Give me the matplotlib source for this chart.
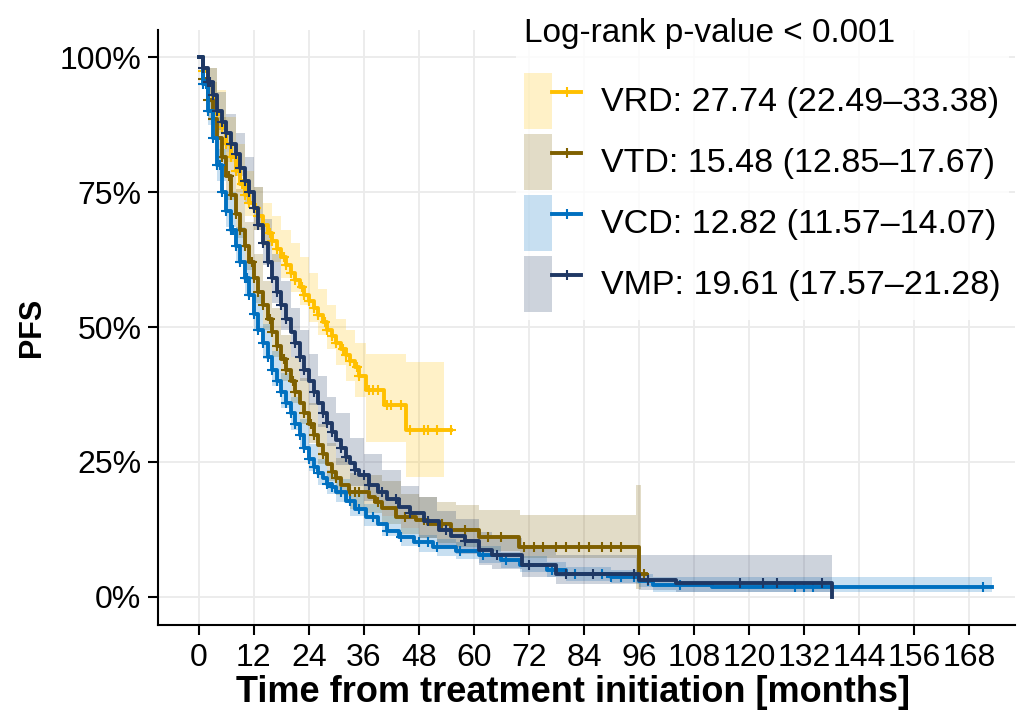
import numpy as np
import matplotlib
matplotlib.use('Agg')
import matplotlib.pyplot as plt
from matplotlib.patches import Patch
from matplotlib.lines import Line2D
from matplotlib.legend_handler import HandlerTuple

plt.rcParams['font.family'] = ['Liberation Sans', 'DejaVu Sans']

# Kaplan-Meier step curves (months, PFS %)
VRD_t = [0, 1, 2, 3, 4, 5, 6, 7, 8, 9, 10, 11, 12, 13, 14, 15, 16, 17, 18, 19, 20,
         21, 22, 23, 24, 25, 26, 27, 28, 29, 30, 31, 32, 33, 34, 35, 36.5, 40.4, 45.2, 55]
VRD_s = [100, 97.5, 95, 92, 89.5, 87, 84, 81.5, 79, 76.5, 74.5, 73, 72, 70.5, 69, 67.5,
         66, 64.5, 63, 61.5, 60, 58.7, 57.5, 56, 54.8, 53.5, 52.2, 51, 49.5, 48.3, 47, 46,
         44.8, 43.8, 42.6, 41, 38.3, 35.5, 31, 31]

VTD_t = [0, 1, 2, 3, 4, 5, 6, 7, 8, 9, 10, 11, 12, 13, 14, 15, 16, 17, 18, 19, 20, 21,
         22, 23, 24, 25, 26, 27, 28, 29, 30, 31, 32.8, 37, 38.5, 40, 43, 47.4, 50, 55, 61,
         69.8, 95.9, 97.5]
VTD_s = [100, 96, 92, 88.5, 85, 81.5, 78, 74.5, 71, 68, 65, 62, 59, 56.5, 54, 51.5, 49,
         46.5, 44, 42, 40, 38, 36, 34, 32, 30, 28.2, 26.5, 24.7, 23.2, 22, 20.8, 19.4, 18.5,
         17.5, 16.5, 14.8, 14.3, 13.5, 12.4, 11.1, 9.3, 4.2, 4.2]

VCD_t = [0, 1, 2, 3, 4, 5, 6, 7, 8, 9, 10, 11, 12, 13, 14, 15, 16, 17, 18, 19, 20, 21,
         22, 23, 24, 25, 26, 27, 28, 29, 30, 32, 34, 36.5, 39, 41, 43.7, 47, 51, 56, 61,
         66, 70, 76, 80, 90, 96, 99, 112, 173]
VCD_s = [100, 95, 90, 85, 80, 75, 71.5, 68, 65, 62, 59, 56, 52.5, 49.5, 47, 44.5, 42, 40,
         38, 36, 34, 32, 30, 27.5, 25.5, 24, 23, 22, 21, 20.4, 19.5, 17.8, 16.3, 14.8, 13.5,
         12.3, 11.1, 10.2, 9.3, 8.5, 7.8, 6.8, 6.0, 5.0, 4.2, 3.7, 3.0, 2.2, 1.9, 1.9]

VMP_t = [0, 1, 2, 3, 4, 5, 6, 7, 8, 9, 10, 11, 12, 13, 14, 15, 16, 17, 18, 19, 20, 21,
         22, 23, 24, 25, 26, 27, 28, 29, 30, 31, 32, 33, 34, 35, 37, 39, 41, 43.7, 46, 49,
         52.4, 55, 58, 61, 64, 70.5, 78, 96, 104, 138]
VMP_s = [100, 98, 95.5, 93, 90, 88, 86, 84, 82, 79.5, 77, 75, 72, 69, 65.5, 62, 59, 56.5,
         54, 51.5, 49, 47, 44.5, 42, 40, 38, 36, 34, 32.3, 30.5, 29, 27.5, 26, 24.8, 23.6,
         22.5, 20.8, 19.5, 18.2, 16.7, 15.5, 14, 12.4, 11.3, 10.3, 8.6, 7.8, 5.9, 4.3, 3.1,
         2.6, 0]

# 95% confidence bands (drawn as steps)
VRD_ci_t = [0, 2, 4, 6, 8, 10, 12, 14, 16, 18, 20, 22, 24, 26, 28, 30, 32, 34, 36.5,
            40.4, 45.2, 53.5]
VRD_lo = [100, 91.5, 86, 80.5, 75, 70.5, 68, 65, 62, 59, 56.5, 54, 51, 48.5, 46, 43, 40,
          37, 28.7, 28.7, 22.3, 22.3]
VRD_hi = [100, 98, 94, 89, 84, 79, 76, 73, 70.5, 68, 65.5, 63, 60, 57, 54, 51.5, 49.5, 47,
          45, 45, 43.5, 43.5]

VTD_ci_t = [0, 2, 4, 6, 8, 10, 12, 14, 16, 18, 20, 22, 24, 26, 28, 30, 33, 36, 40, 44,
            48, 52, 56, 61, 70, 95.4, 96.5]
VTD_lo = [100, 88.5, 81, 73.5, 66.5, 60.5, 54.5, 49.5, 44.5, 40, 36, 32, 28.5, 24.7, 21.5,
          18.8, 16.3, 15.5, 13.5, 11.6, 11, 10, 9.3, 8.5, 7.2, 1.5, 1.5]
VTD_hi = [100, 95.5, 89, 82.5, 75.5, 69.5, 63.5, 58.5, 53.5, 48.5, 44.5, 40.5, 36, 32,
          28.5, 25.8, 23, 22.5, 21.5, 19, 18.5, 17.5, 17, 16.1, 15.2, 20.7, 20.7]

VCD_ci_t = [0, 2, 4, 6, 8, 10, 12, 14, 16, 18, 20, 22, 24, 26, 28, 30, 33, 36, 40, 44,
            48, 52, 56, 61, 66, 70, 76, 80, 90, 96, 99, 173]
VCD_lo = [100, 87.5, 77, 68.5, 62, 56, 49.5, 44, 39, 35, 31, 27.5, 23.3, 20.8, 19, 17.5,
          15, 13.2, 11.3, 9.5, 8.3, 7.6, 7, 6.3, 5.4, 4.6, 3.7, 3, 2.5, 1.9, 1.0, 0.9]
VCD_hi = [100, 92.5, 83, 75, 68.5, 62.5, 56, 50.5, 45.5, 41.5, 37, 33, 28.3, 25.6, 23.6,
          21.8, 19.2, 17.2, 15, 12.8, 11.5, 10.8, 10.1, 9.4, 8.3, 7.5, 6.4, 5.5, 5, 4.2, 3.7,
          3.7]

VMP_ci_t = [0, 2, 4, 6, 8, 10, 12, 14, 16, 18, 20, 22, 24, 26, 28, 30, 33, 36, 40, 44,
            48, 52, 56, 61, 64, 70.5, 78, 96, 104, 138]
VMP_lo = [100, 93, 86.5, 82.5, 78, 73, 68, 61.5, 54.5, 49.5, 44.5, 40, 35.5, 31.5, 28,
          24.5, 20.5, 17.8, 15, 12.8, 11, 9.3, 8, 6, 5.2, 3.6, 2.4, 1.3, 1, 0]
VMP_hi = [100, 98, 93.5, 89.5, 86, 81.5, 76, 70, 63.5, 58.5, 53.5, 49.5, 45, 41, 37, 34,
          29.5, 26.5, 23.5, 20.5, 18.5, 16, 14.5, 12, 11, 9, 7.8, 7.8, 7.8, 7.8]

# censoring times
VRD_cens = [1, 2, 3, 4, 5, 6, 7, 8, 9.5, 10, 11, 12.5, 13, 14, 15.5, 16, 17, 18.5, 19,
            20, 21, 22.5, 23, 24, 25, 26, 27.5, 28, 29, 30, 31.5, 32, 33, 34.5, 35, 37,
            38, 39, 41, 42, 44, 46, 49, 50, 52, 55]
VTD_cens = [1, 2, 3, 4, 5, 6.5, 7, 8, 9, 10, 11.5, 12, 13, 14, 15.5, 16, 17, 18.5, 19,
            20.5, 21, 23, 24.5, 25, 27, 29, 30, 33, 34, 35, 39, 45, 49, 53, 58, 63, 66,
            71, 73, 75, 78, 80, 83, 85, 88, 90, 92, 97]
VCD_cens = [1, 1.5, 2, 3, 4, 4.5, 5, 6, 7, 7.5, 8, 9, 10, 10.5, 11, 12, 13, 14, 15, 16,
            17, 18, 19, 20, 21, 22, 23, 24, 25, 26, 28, 29, 31, 33, 35, 38, 41, 44, 48, 50,
            52, 57, 62, 67, 77, 82, 88, 90, 92, 95, 98, 105, 130, 132, 134, 171]
VMP_cens = [1, 2, 2.5, 3, 4, 5, 6, 7, 8, 9, 10, 11, 12, 13, 14, 15, 16, 17, 18, 19, 21,
            22, 23, 25, 27, 28, 29, 31, 32, 34, 36, 37, 40, 43, 46, 50, 54, 58, 65, 72,
            80, 86, 95, 98, 118, 123, 126, 136]

LABELS = ['VRD: 27.74 (22.49\u201333.38)', 'VTD: 15.48 (12.85\u201317.67)',
          'VCD: 12.82 (11.57\u201314.07)', 'VMP: 19.61 (17.57\u201321.28)']
COLORS = ['#FFC000', '#7F6000', '#0070C0', '#1F3864']
BAND_ALPHA = 0.22

curves = [(VRD_t, VRD_s, VRD_ci_t, VRD_lo, VRD_hi, VRD_cens),
          (VTD_t, VTD_s, VTD_ci_t, VTD_lo, VTD_hi, VTD_cens),
          (VCD_t, VCD_s, VCD_ci_t, VCD_lo, VCD_hi, VCD_cens),
          (VMP_t, VMP_s, VMP_ci_t, VMP_lo, VMP_hi, VMP_cens)]

fig = plt.figure(figsize=(10.2, 7.2), dpi=100)
ax = fig.add_axes([0.155, 0.132, 0.84, 0.826])

# bands first, then the curves on top
for (t, s, ct, lo, hi, cens), col in zip(curves, COLORS):
    ax.fill_between(ct, lo, hi, step='post', color=col, alpha=BAND_ALPHA, lw=0)

for (t, s, ct, lo, hi, cens), col in zip(curves, COLORS):
    t = np.asarray(t)
    s = np.asarray(s)
    ax.step(t, s, where='post', color=col, lw=2.8)
    idx = np.searchsorted(t, cens, side='right') - 1
    ax.plot(cens, s[idx], ls='none', marker='+', ms=7, mew=1.5, color=col)

ax.set_xlim(-8.9, 178)
ax.set_ylim(-5.2, 105)
ax.set_xticks(np.arange(0, 169, 12))
ax.set_yticks([0, 25, 50, 75, 100])
ax.set_yticklabels(['0%', '25%', '50%', '75%', '100%'])
ax.grid(True, color='#EBEBEB', lw=1.3)
ax.set_axisbelow(True)
for side in ['top', 'right']:
    ax.spines[side].set_visible(False)
for side in ['left', 'bottom']:
    ax.spines[side].set_linewidth(1.5)
ax.tick_params(axis='both', labelsize=23, length=7, width=1.5, colors='black')
ax.tick_params(axis='x', pad=6)
ax.tick_params(axis='y', pad=5)

ax.set_xlabel('Time from treatment initiation [months]', fontsize=26, fontweight='bold')
ax.xaxis.set_label_coords(0.484, -0.113, transform=ax.transAxes)
ax.xaxis.label.set_va('center')
ax.set_ylabel('PFS', fontsize=22, fontweight='bold', labelpad=9)

handles = []
for col in COLORS:
    patch = Patch(facecolor=col, alpha=BAND_ALPHA, edgecolor='none')
    line = Line2D([], [], color=col, lw=2.8, marker='+', ms=7, mew=1.5)
    handles.append((patch, line))

leg = fig.legend(handles, LABELS, handler_map={tuple: HandlerTuple(ndivide=None, pad=0)},
                 loc='upper right', bbox_to_anchor=(0.996, 0.996),
                 title='Log-rank p-value < 0.001', fontsize=24.5, title_fontsize=24,
                 handlelength=1.65, handleheight=2.15, handletextpad=0.6,
                 labelspacing=0.15, borderpad=0.25, borderaxespad=0.2,
                 frameon=True, fancybox=False)
leg.get_frame().set_facecolor('white')
leg.get_frame().set_edgecolor('none')
leg._legend_box.align = 'left'
leg._legend_box.sep = 17  # extra gap between the title and the keys

fig.savefig('out.png', dpi=100)
